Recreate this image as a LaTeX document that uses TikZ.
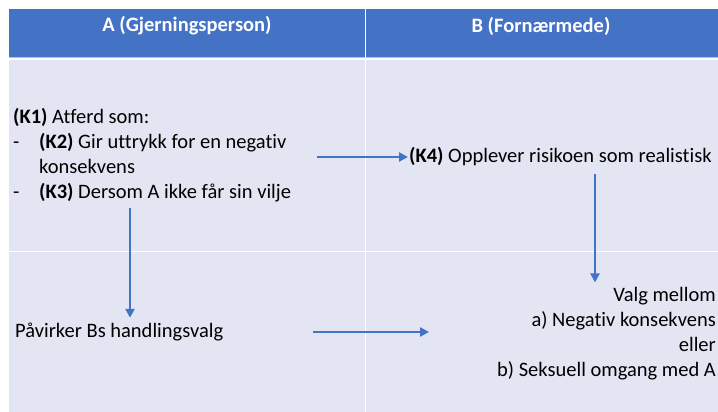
\documentclass[tikz,border=0pt]{standalone}
\usepackage{fontspec}
\setmainfont{Carlito}[Ligatures=NoCommon]
\usetikzlibrary{arrows.meta}
\definecolor{hdblue}{RGB}{68,114,196}
\definecolor{rowbg}{RGB}{227,230,242}
\tikzset{
  txt/.style={inner sep=1pt, font=\fontsize{20.5}{25}\selectfont},
  head/.style={font=\bfseries\fontsize{20.5}{24}\selectfont, text=white},
  arr/.style={draw=hdblue, line width=2.8pt, -{Triangle[length=9pt,width=9pt]}},
}
\begin{document}
\begin{tikzpicture}[x=1pt,y=-1pt]
	\useasboundingbox (0,0) rectangle (718,412);
	% table
	\fill[hdblue] (9,9) rectangle (718,57);
	\fill[hdblue!45] (9,57) rectangle (718,58.5);
	\fill[rowbg] (9,60) rectangle (718,412);
	\draw[white, line width=1pt] (9,251) -- (718,251);
	\draw[white, line width=1pt] (365,9) -- (365,412);
	\node[head] (ha) at (187,26) {A (Gjerningsperson)};
	\node[head] (hb) at (541,26) {B (Fornærmede)};
	% cells
	\node[txt, anchor=west, align=left] (k1) at (12,155) {\textbf{(K1)} Atferd som:\\
		\makebox[26pt][l]{-}\textbf{(K2)} Gir uttrykk for en negativ\\
		\hspace*{26pt}konsekvens\\
		\makebox[26pt][l]{-}\textbf{(K3)} Dersom A ikke får sin vilje};
	\node[txt, anchor=west] (k4) at (408,157) {\textbf{(K4)} Opplever risikoen som realistisk};
	\node[txt, anchor=west] (pv) at (14,332) {Påvirker Bs handlingsvalg};
	\node[txt, anchor=east, align=right] (valg) at (717,334) {Valg mellom\\
		a) Negativ konsekvens\\
		eller\\
		b) Seksuell omgang med A};
	% arrows
	\coordinate (ax) at (130,0);
	\coordinate (bx) at (595,0);
	\draw[arr, shorten <=25pt] (k1.east |- k4) -- (k4.west);
	\draw[arr] ([yshift=-5pt]k1.south -| ax) -- ([yshift=4pt]pv.north -| ax);
	\draw[arr] ([yshift=-7pt]k4.south -| bx) -- ([yshift=4pt]valg.north -| bx);
	\draw[arr, shorten <=89pt, shorten >=67pt] (pv.east) -- (pv.east -| valg.west);
\end{tikzpicture}
\end{document}
